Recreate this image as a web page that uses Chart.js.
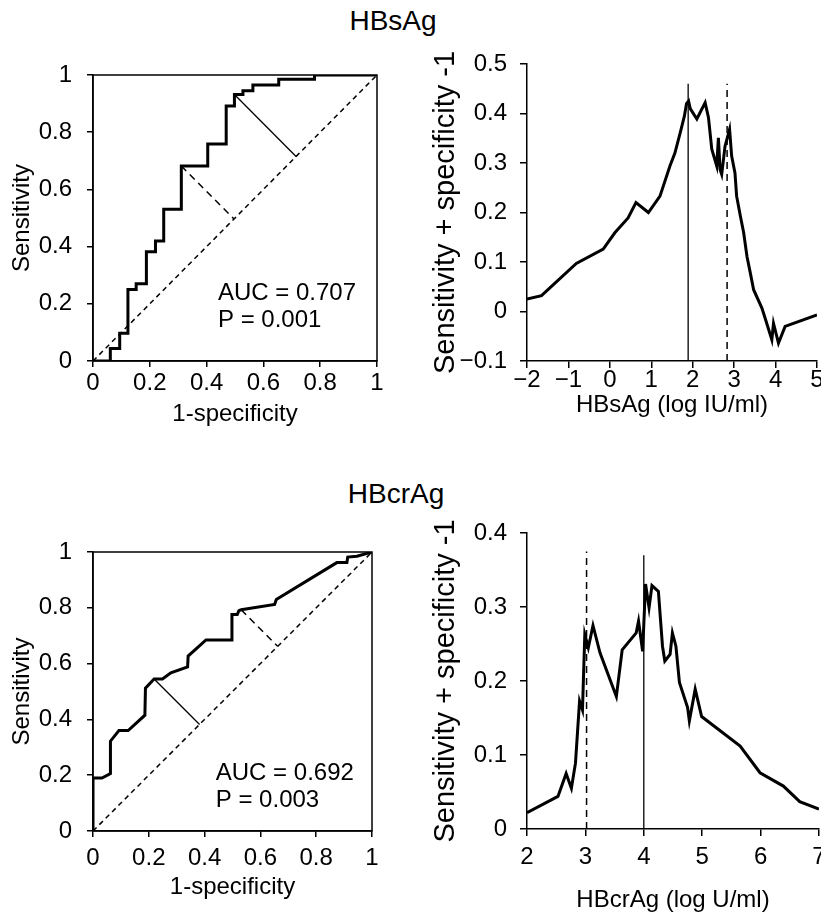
<!DOCTYPE html>
<html>
<head>
<meta charset="utf-8">
<script src="https://cdn.jsdelivr.net/npm/chart.js@4.4.1/dist/chart.umd.min.js"></script>
<style>
  body { margin: 0; background: #fff; width: 821px; height: 914px; position: relative; overflow: hidden; font-family: "Liberation Sans", Arial, sans-serif; }
  canvas { position: absolute; }
  .title { position: absolute; font-size: 28px; color: #000; transform: translateX(-50%); line-height: 1; }
</style>
</head>
<body>
<div class="title" style="left:393px; top:7px;">HBsAg</div>
<div class="title" style="left:396px; top:480px;">HBcrAg</div>
<canvas id="rocTop" width="410" height="380" style="left:0; top:50px;"></canvas>
<canvas id="youdenTop" width="401" height="380" style="left:420px; top:50px;"></canvas>
<canvas id="rocBottom" width="410" height="394" style="left:0; top:520px;"></canvas>
<canvas id="youdenBottom" width="401" height="394" style="left:420px; top:520px;"></canvas>
<script>
// HBsAg ROC (step curve, points at top of each jump)
const hbsRocFpr = [0, 0.061, 0.094, 0.123, 0.152, 0.188, 0.220, 0.249, 0.311, 0.404, 0.469, 0.498, 0.528, 0.563, 0.654, 0.78, 1];
const hbsRocTpr = [0, 0.044, 0.097, 0.25, 0.27, 0.382, 0.42, 0.531, 0.682, 0.759, 0.892, 0.932, 0.945, 0.965, 0.985, 1.0, 1];
const hbsCutSolidX = [0.498, 0.715];
const hbsCutSolidY = [0.932, 0.715];
const hbsCutDashX = [0.311, 0.4965];
const hbsCutDashY = [0.682, 0.4965];
const hbsAuc = ["AUC = 0.707", "P = 0.001"];

// HBsAg Youden index vs log cut-off
const hbsLog = [-2, -1.65, -0.81, -0.16, 0.12, 0.44, 0.63, 0.93, 1.21, 1.45, 1.57, 1.71, 1.8, 1.85, 1.9, 1.94, 2.10, 2.30, 2.38, 2.46, 2.58, 2.62, 2.66, 2.70, 2.78, 2.89, 2.94, 3.02, 3.06, 3.15, 3.23, 3.31, 3.39, 3.47, 3.67, 3.75, 3.91, 3.95, 4.07, 4.23, 5.0];
const hbsJ = [0.025, 0.032, 0.097, 0.126, 0.159, 0.189, 0.22, 0.2, 0.233, 0.294, 0.32, 0.365, 0.395, 0.42, 0.425, 0.41, 0.389, 0.422, 0.392, 0.328, 0.294, 0.351, 0.287, 0.277, 0.334, 0.368, 0.314, 0.28, 0.233, 0.193, 0.159, 0.111, 0.078, 0.044, 0.007, -0.014, -0.057, -0.024, -0.064, -0.03, -0.007];
const hbsSolidCut = 1.89, hbsDashCut = 2.83;
const hbsCutTop = [0.46, 0.46];

// HBcrAg ROC
const hbcrRocFpr = [0, 0, 0.032, 0.0625, 0.0625, 0.093, 0.126, 0.186, 0.188, 0.219, 0.249, 0.279, 0.339, 0.341, 0.405, 0.498, 0.498, 0.517, 0.523, 0.531, 0.651, 0.657, 0.874, 0.91, 0.913, 0.946, 1];
const hbcrRocTpr = [0, 0.19, 0.19, 0.206, 0.322, 0.36, 0.36, 0.415, 0.512, 0.545, 0.545, 0.567, 0.588, 0.627, 0.685, 0.685, 0.776, 0.776, 0.79, 0.793, 0.812, 0.83, 0.962, 0.962, 0.982, 0.985, 1];
const hbcrCutSolidX = [0.219, 0.382];
const hbcrCutSolidY = [0.545, 0.382];
const hbcrCutDashX = [0.531, 0.662];
const hbcrCutDashY = [0.793, 0.662];
const hbcrAuc = ["AUC = 0.692", "P = 0.003"];

// HBcrAg Youden index vs log cut-off
const hbcrLog = [2.0, 2.53, 2.67, 2.76, 2.83, 2.90, 2.95, 2.99, 3.05, 3.13, 3.25, 3.53, 3.63, 3.87, 3.91, 3.98, 4.03, 4.09, 4.14, 4.25, 4.32, 4.36, 4.45, 4.49, 4.55, 4.61, 4.75, 4.78, 4.88, 4.99, 5.65, 5.99, 6.39, 6.67, 7.0];
const hbcrJ = [0.022, 0.044, 0.075, 0.055, 0.089, 0.173, 0.161, 0.263, 0.245, 0.275, 0.238, 0.179, 0.242, 0.265, 0.281, 0.240, 0.331, 0.299, 0.329, 0.321, 0.247, 0.227, 0.236, 0.265, 0.247, 0.198, 0.164, 0.146, 0.189, 0.152, 0.112, 0.076, 0.058, 0.037, 0.027];
const hbcrSolidCut = 4.0, hbcrDashCut = 3.02;
const hbcrCutTop = [0.37, 0.375];

// tick labels
const rocTicks = [0, 0.2, 0.4, 0.6, 0.8, 1];
const hbsLogTicks = [-2, -1, 0, 1, 2, 3, 4, 5];
const hbsJTicks = [-0.1, 0, 0.1, 0.2, 0.3, 0.4, 0.5];
const hbcrLogTicks = [2, 3, 4, 5, 6, 7];
const hbcrJTicks = [0, 0.1, 0.2, 0.3, 0.4];

const FONT = "'Liberation Sans', Arial, sans-serif";
const pts = (xs, ys) => xs.map((x, i) => ({x: x, y: ys[i]}));
const fmt = v => String(Number(v.toFixed(1))).replace('-', '\u2212');

function line(data, width, dash, extra) {
  return Object.assign({data: data, showLine: true, borderColor: '#000', borderWidth: width,
    borderDash: dash || [], pointRadius: 0, fill: false, tension: 0}, extra || {});
}

function axis(o) {
  return {
    type: 'linear', min: o.min, max: o.max,
    afterBuildTicks: a => { a.ticks = o.ticks.map(v => ({value: v})); },
    afterFit: a => {
      if (a.isHorizontal()) a.height = o.size; else a.width = o.size;
      a.paddingLeft = 0; a.paddingRight = 0; a.paddingTop = 0; a.paddingBottom = 0;
    },
    border: {display: true, color: '#000', width: 1.5},
    grid: {drawOnChartArea: false, drawTicks: true, tickLength: o.tl, color: '#000', lineWidth: 1.5},
    ticks: {color: '#000', padding: o.pad, font: {family: FONT, size: o.fs, lineHeight: 1}, callback: v => fmt(v), maxRotation: 0, autoSkip: false},
    title: {display: true, text: o.title, color: '#000', font: {family: FONT, size: o.tfs, lineHeight: 1}, padding: o.tpad}
  };
}

const framePlugin = {
  id: 'frame',
  afterDatasetsDraw(chart) {
    const c = chart.chartArea, ctx = chart.ctx;
    ctx.save(); ctx.strokeStyle = '#000'; ctx.lineWidth = 1.5;
    ctx.strokeRect(c.left, c.top, c.right - c.left, c.bottom - c.top);
    ctx.restore();
  }
};

function aucPlugin(lines, x, y) {
  return {
    id: 'auc',
    afterDatasetsDraw(chart) {
      const ctx = chart.ctx;
      const px = chart.scales.x.getPixelForValue(x), py = chart.scales.y.getPixelForValue(y);
      ctx.save(); ctx.fillStyle = '#000'; ctx.font = '24px ' + FONT;
      ctx.textAlign = 'left'; ctx.textBaseline = 'middle';
      lines.forEach((t, i) => ctx.fillText(t, px, py + i * 27));
      ctx.restore();
    }
  };
}

const base = {
  animation: false, responsive: false,
  plugins: {legend: {display: false}, tooltip: {enabled: false}}
};

function rocChart(id, curve, stepped, solid, dash, auc, geom) {
  return new Chart(document.getElementById(id), {
    type: 'scatter',
    data: {datasets: [
      line(pts([0, 1], [0, 1]), 1.5, [5, 4]),
      line(solid, 1.3),
      line(dash, 1.5, [7, 5]),
      line(curve, 3, null, {stepped: stepped})
    ]},
    options: Object.assign({}, base, {
      layout: {padding: {top: geom.top, right: geom.right, left: 0, bottom: 0}},
      scales: {
        x: axis({min: 0, max: 1, ticks: rocTicks, size: geom.xh, tl: 6, pad: geom.xpad, fs: 24, tfs: 24, title: '1-specificity', tpad: {top: 0, bottom: geom.xtpad}}),
        y: axis({min: 0, max: 1, ticks: rocTicks, size: 93, tl: 6, pad: 15, fs: 24, tfs: 24, title: 'Sensitivity', tpad: {top: 10, bottom: 0}})
      }
    }),
    plugins: [framePlugin, aucPlugin(auc, 0.44, geom.aucY)]
  });
}

function youdenChart(id, xs, ys, xr, yr, xt, yt, solidCut, dashCut, tops, xtitle, geom) {
  return new Chart(document.getElementById(id), {
    type: 'scatter',
    data: {datasets: [
      line(pts([solidCut, solidCut], [yr[0], tops[0]]), 1.3),
      line(pts([dashCut, dashCut], [yr[0], tops[1]]), 1.5, [7, 5]),
      line(pts(xs, ys), 3)
    ]},
    options: Object.assign({}, base, {
      layout: {padding: {top: geom.top, right: geom.right, left: 0, bottom: 0}},
      scales: {
        x: axis({min: xr[0], max: xr[1], ticks: xt, size: geom.xh, tl: 7, pad: geom.xpad, fs: 24, tfs: 24, title: xtitle, tpad: {top: 0, bottom: geom.xtpad}}),
        y: axis({min: yr[0], max: yr[1], ticks: yt, size: 107, tl: 7, pad: 13, fs: 24, tfs: 29, title: 'Sensitivity + specificity -1', tpad: {top: 11, bottom: 0}})
      }
    })
  });
}

rocChart('rocTop', pts(hbsRocFpr, hbsRocTpr), 'before', pts(hbsCutSolidX, hbsCutSolidY), pts(hbsCutDashX, hbsCutDashY), hbsAuc,
  {top: 25, right: 33, xh: 69, xpad: 4, xtpad: 4, aucY: 0.235});
rocChart('rocBottom', pts(hbcrRocFpr, hbcrRocTpr), false, pts(hbcrCutSolidX, hbcrCutSolidY), pts(hbcrCutDashX, hbcrCutDashY), hbcrAuc,
  {top: 32, right: 38, xh: 83, xpad: 9, xtpad: 15, aucY: 0.205});
youdenChart('youdenTop', hbsLog, hbsJ, [-2, 5], [-0.1, 0.5], hbsLogTicks, hbsJTicks, hbsSolidCut, hbsDashCut, hbsCutTop, 'HBsAg (log IU/ml)',
  {top: 14, right: 4, xh: 69, xpad: 0, xtpad: 13});
youdenChart('youdenBottom', hbcrLog, hbcrJ, [2, 7], [0, 0.4], hbcrLogTicks, hbcrJTicks, hbcrSolidCut, hbcrDashCut, hbcrCutTop, 'HBcrAg (log U/ml)',
  {top: 13, right: 2, xh: 85, xpad: 9, xtpad: 2});
</script>
</body>
</html>
